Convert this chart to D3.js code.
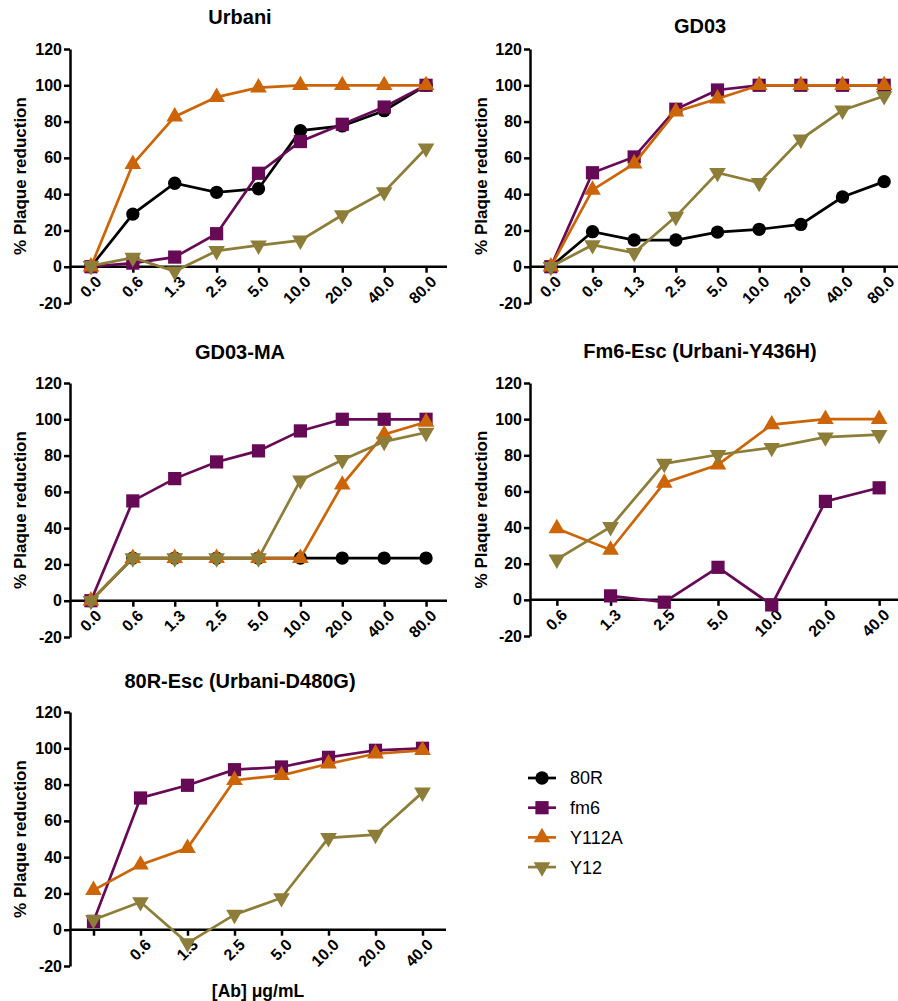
<!DOCTYPE html>
<html>
<head>
<meta charset="utf-8">
<script src="https://cdn.jsdelivr.net/npm/d3@7"></script>
<style>
  body { margin: 0; background: #fff; }
  svg { display: block; }
</style>
</head>
<body>
<div id="chart"></div>
<script>
// dose categories (x axis)
const doses9 = ["0.0", "0.6", "1.3", "2.5", "5.0", "10.0", "20.0", "40.0", "80.0"];
const doses7 = ["0.6", "1.3", "2.5", "5.0", "10.0", "20.0", "40.0"];
const doses8 = ["", "0.6", "1.3", "2.5", "5.0", "10.0", "20.0", "40.0"];
const yTicks = [-20, 0, 20, 40, 60, 80, 100, 120];

const seriesNames = ["80R", "fm6", "Y112A", "Y12"];
const seriesColors = ["#000000", "#660a56", "#cc6408", "#8c7d38"];

// Urbani
const urbani80R   = [0, 29, 46, 41, 43, 75, 77.6, 86, 100];
const urbaniFm6   = [0, 2, 5.3, 18.2, 51.5, 69, 78.5, 88, 100];
const urbaniY112A = [0, 56.5, 82.7, 93.5, 98.7, 100, 100, 100, 100];
const urbaniY12   = [0.5, 5, -2.5, 8.7, 11.8, 14.5, 28.5, 41.2, 65.3];

// GD03
const gd0380R   = [0, 19.3, 14.7, 14.7, 19.1, 20.6, 23.3, 38.4, 46.9];
const gd03Fm6   = [0, 51.8, 60.5, 86.8, 97.4, 100, 100, 100, 100];
const gd03Y112A = [0, 42.3, 56.8, 85.5, 92.6, 100, 100, 100, 100];
const gd03Y12   = [0, 12, 7.7, 27.6, 51.8, 46.3, 70.2, 86.2, 94.1];

// GD03-MA
const gd03ma80R   = [0, 23.5, 23.5, 23.5, 23.5, 23.5, 23.5, 23.5, 23.5];
const gd03maFm6   = [0, 55, 67.3, 76.5, 82.6, 93.6, 100, 100, 100];
const gd03maY112A = [0, 23.5, 23.5, 23.5, 23.5, 23.5, 63.9, 91.7, 98.5];
const gd03maY12   = [0, 23.5, 23.5, 23.5, 23.5, 66.4, 77.6, 87.7, 92.7];

// Fm6-Esc (Urbani-Y436H)
const fm6EscFm6   = [null, 2.2, -1.3, 18, -2.8, 54.5, 62];
const fm6EscY112A = [39.5, 27.6, 64.7, 74.8, 97, 100, 100];
const fm6EscY12   = [22.4, 40.4, 75.4, 80.3, 84.2, 90, 91.4];

// 80R-Esc (Urbani-D480G)
const r80EscFm6   = [4.6, 72.6, 79.6, 88.2, 89.7, 95, 98.9, 100];
const r80EscY112A = [21.8, 35.8, 45, 82.4, 85.1, 91.5, 97, 98.9];
const r80EscY12   = [5.5, 15.3, -7.4, 8.3, 17.5, 50.6, 52.4, 75.7];

const panels = [
  { title: "Urbani", doses: doses9, series: [urbani80R, urbaniFm6, urbaniY112A, urbaniY12],
    x0: 70, x1: 447, yTop: 49, yBot: 303, titleX: 240, titleY: 24, labX: 26 },
  { title: "GD03", doses: doses9, series: [gd0380R, gd03Fm6, gd03Y112A, gd03Y12],
    x0: 530, x1: 905, yTop: 49, yBot: 303, titleX: 700, titleY: 33, labX: 487 },
  { title: "GD03-MA", doses: doses9, series: [gd03ma80R, gd03maFm6, gd03maY112A, gd03maY12],
    x0: 70, x1: 447, yTop: 383, yBot: 637, titleX: 240, titleY: 359, labX: 26 },
  { title: "Fm6-Esc (Urbani-Y436H)", doses: doses7, series: [null, fm6EscFm6, fm6EscY112A, fm6EscY12],
    x0: 530, x1: 906, yTop: 383, yBot: 636, titleX: 700, titleY: 358, labX: 487 },
  { title: "80R-Esc (Urbani-D480G)", doses: doses8, series: [null, r80EscFm6, r80EscY112A, r80EscY12],
    x0: 70, x1: 446, yTop: 712, yBot: 966, titleX: 240, titleY: 688, labX: 26 }
];

const FONT = "'Liberation Sans', Arial, Helvetica, sans-serif";

const svg = d3.select("#chart").append("svg")
  .attr("width", 898)
  .attr("height", 1001)
  .style("font-family", FONT);

function marker(i) {
  if (i === 0) return d3.symbol().type(d3.symbolCircle).size(140)();
  if (i === 1) return d3.symbol().type(d3.symbolSquare).size(175)();
  return d3.symbol().type(d3.symbolTriangle).size(120)();
}

function styleAxis(sel, size) {
  sel.attr("font-family", null).attr("font-size", null);
  sel.selectAll("path, line").attr("stroke", "#000").attr("stroke-width", 2.5);
  sel.selectAll("text")
    .style("font-family", FONT)
    .style("font-weight", "bold")
    .style("font-size", size + "px")
    .attr("fill", "#000");
}

panels.forEach(function(p) {
  const g = svg.append("g");

  const x = d3.scalePoint()
    .domain(p.doses)
    .range([p.x0, p.x1])
    .padding(0.5);

  const y = d3.scaleLinear()
    .domain([-20, 120])
    .range([p.yBot, p.yTop]);

  // y axis
  const yAxis = g.append("g")
    .attr("transform", `translate(${p.x0},0)`)
    .call(d3.axisLeft(y).tickValues(yTicks).tickFormat(d => String(d))
      .tickSize(6).tickPadding(2).tickSizeOuter(0));
  styleAxis(yAxis, 16);

  // x axis sits on y = 0
  const xAxis = g.append("g")
    .attr("transform", `translate(0,${y(0)})`)
    .call(d3.axisBottom(x).tickSize(6).tickSizeOuter(0));
  xAxis.select(".domain").attr("d", `M${p.x0},0H${p.x1}`);
  styleAxis(xAxis, 16);
  xAxis.selectAll(".tick text")
    .attr("text-anchor", "end")
    .attr("dy", null)
    .attr("y", null)
    .attr("transform", "translate(8,13) rotate(-45)")
    .attr("dominant-baseline", "middle");

  g.append("text")
    .attr("x", p.titleX)
    .attr("y", p.titleY)
    .attr("text-anchor", "middle")
    .style("font-weight", "bold")
    .style("font-size", "20px")
    .text(p.title);

  g.append("text")
    .attr("transform", `translate(${p.labX},${(p.yTop + p.yBot) / 2}) rotate(-90)`)
    .attr("text-anchor", "middle")
    .style("font-weight", "bold")
    .style("font-size", "17px")
    .text("% Plaque reduction");

  const line = d3.line()
    .defined(d => d.v != null)
    .x(d => x(d.k))
    .y(d => y(d.v));

  p.series.forEach(function(vals, i) {
    if (!vals) return;
    const pts = vals.map((v, j) => ({ k: p.doses[j], v: v }));
    g.append("path")
      .datum(pts)
      .attr("fill", "none")
      .attr("stroke", seriesColors[i])
      .attr("stroke-width", 2.7)
      .attr("d", line);
    g.selectAll(null)
      .data(pts.filter(d => d.v != null))
      .enter().append("path")
      .attr("d", marker(i))
      .attr("fill", seriesColors[i])
      .attr("transform", d => `translate(${x(d.k)},${y(d.v)})` + (i === 3 ? " rotate(180)" : ""));
  });
});

// x axis title under the last panel
svg.append("text")
  .attr("x", 258)
  .attr("y", 997)
  .attr("text-anchor", "middle")
  .style("font-weight", "bold")
  .style("font-size", "17.5px")
  .text("[Ab] μg/mL");

// legend
const legend = svg.append("g")
  .attr("transform", "translate(528,778)");

seriesNames.forEach(function(name, i) {
  const row = legend.append("g")
    .attr("transform", `translate(0,${i * 29.7})`);
  row.append("line")
    .attr("x1", 0).attr("x2", 28)
    .attr("stroke", seriesColors[i])
    .attr("stroke-width", 2.7);
  row.append("path")
    .attr("d", marker(i))
    .attr("fill", seriesColors[i])
    .attr("transform", `translate(14,0)` + (i === 3 ? " rotate(180)" : ""));
  row.append("text")
    .attr("x", 42)
    .attr("dy", "0.36em")
    .style("font-size", "18px")
    .text(name);
});
</script>
</body>
</html>
